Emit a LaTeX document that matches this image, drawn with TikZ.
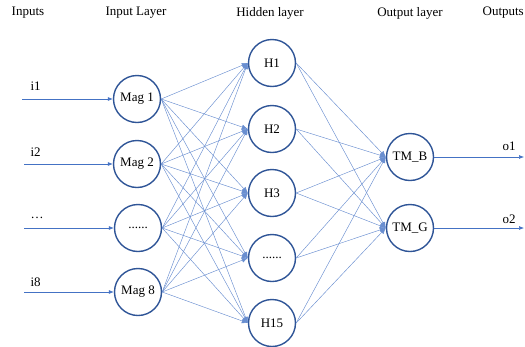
\documentclass[tikz,border=0pt]{standalone}
\usepackage{fontspec}
\setmainfont{Liberation Serif}
\usetikzlibrary{arrows.meta}
\definecolor{ringblue}{HTML}{2F5597}
\definecolor{wireblue}{HTML}{4472C4}
\tikzset{
  neuron/.style={circle, draw=ringblue, line width=1.4pt, minimum size=47pt, inner sep=0pt, font=\fontsize{13}{15}\selectfont},
  wire/.style={draw=wireblue!80, line width=0.45pt, -{Latex[length=6pt,width=5pt]}},
  ioarrow/.style={draw=wireblue, line width=0.6pt, -{Latex[length=5pt,width=4pt]}},
  header/.style={font=\fontsize{13}{15}\selectfont},
  lbl/.style={font=\fontsize{13}{15}\selectfont, anchor=west}
}
\begin{document}
\begin{tikzpicture}[x=1pt,y=-1pt]
\useasboundingbox (0,0) rectangle (525,346);
% headers
\node[header] (hIn) at (28,13) {Inputs};
\node[header] (hInL) at (136,13) {Input Layer};
\node[header] (hHid) at (270,13) {Hidden layer};
\node[header] (hOutL) at (410,13) {Output layer};
\node[header, anchor=east, inner xsep=0pt] (hOut) at (524,13) {Outputs};
% input layer
\node[neuron] (m1) at (137,99) {Mag 1};
\node[neuron] (m2) at (137,164) {Mag 2};
\node[neuron] (m3) at (138,228) {\raisebox{-2pt}{......}};
\node[neuron] (m8) at (138,292) {Mag 8};
% hidden layer
\node[neuron] (h1) at (272,63) {H1};
\node[neuron] (h2) at (272,129) {H2};
\node[neuron] (h3) at (272,193) {H3};
\node[neuron] (h4) at (272,258) {\raisebox{-2pt}{......}};
\node[neuron] (h15) at (272,323) {H15};
% output layer
\node[neuron] (tb) at (410,157) {TM\_B};
\node[neuron] (tg) at (410,228) {TM\_G};
% input coordinates
\coordinate (s1) at (22,99);
\coordinate (s2) at (24,164);
\coordinate (s3) at (24,228);
\coordinate (s8) at (24,292);
\coordinate (e1) at (524,157);
\coordinate (e2) at (524,228);
% labels
\node[lbl] (l1) at (27,86) {i1};
\node[lbl] (l2) at (27,152) {i2};
\node[lbl] (l3) at (27,218) {\dots};
\node[lbl] (l8) at (27,282) {i8};
\node[lbl] (lo1) at (499,146) {o1};
\node[lbl] (lo2) at (499,219) {o2};
% input arrows
\draw[ioarrow] (s1) -- (m1);
\draw[ioarrow] (s2) -- (m2);
\draw[ioarrow] (s3) -- (m3);
\draw[ioarrow] (s8) -- (m8);
% input -> hidden
\foreach \a in {m1,m2,m3,m8}{
  \foreach \b in {h1,h2,h3,h4,h15}{
    \draw[wire] (\a.east) -- (\b.west);
  }
}
% hidden -> output
\foreach \a in {h1,h2,h3,h4,h15}{
  \foreach \b in {tb,tg}{
    \draw[wire] (\a.east) -- (\b.west);
  }
}
% output arrows
\draw[ioarrow] (tb) -- (e1);
\draw[ioarrow] (tg) -- (e2);
\end{tikzpicture}
\end{document}
